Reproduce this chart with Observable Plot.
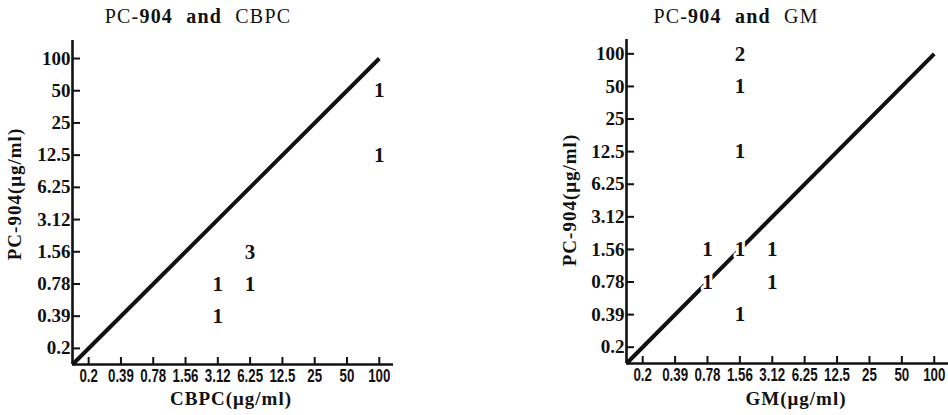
<!DOCTYPE html>
<html>
<head>
<meta charset="utf-8">
<script src="https://cdn.jsdelivr.net/npm/d3@7"></script>
<script src="https://cdn.jsdelivr.net/npm/@observablehq/plot@0.6"></script>
<style>
  html, body { margin: 0; padding: 0; background: #fff; }
  #wrap { position: relative; width: 948px; height: 415px; overflow: hidden; }
  .panel { position: absolute; top: 0; }
  .panel [aria-label="x-axis tick label"] { font-size: 18px; font-weight: bold; font-family: "Liberation Sans", Arimo, "DejaVu Sans", sans-serif; }
  .panel [aria-label="y-axis tick label"] { font-size: 19px; font-weight: bold; font-family: "Liberation Serif", "DejaVu Serif", serif; }
  .lbl { position: absolute; font-family: "Liberation Serif", "DejaVu Serif", serif; font-weight: bold; color: #111; white-space: nowrap; transform: translate(-50%, -50%); }
  .title { font-size: 20px; letter-spacing: 1.2px; word-spacing: 7px; font-weight: normal; }
  .title b { font-weight: bold; }
  .axt { font-size: 19px; letter-spacing: 1px; }
  .rot { transform: translate(-50%, -50%) rotate(-90deg); }
</style>
</head>
<body>
<div id="wrap"></div>
<script>
// Tick labels (equally spaced, two-fold dilution series)
const ticks = ["0.2", "0.39", "0.78", "1.56", "3.12", "6.25", "12.5", "25", "50", "100"];

// Panel 1: PC-904 vs CBPC (x = CBPC MIC, y = PC-904 MIC, n = number of strains)
const cbpcX = ["100", "100", "6.25", "3.12", "6.25", "3.12"];
const cbpcY = ["50", "12.5", "1.56", "0.78", "0.78", "0.39"];
const cbpcN = [1, 1, 3, 1, 1, 1];

// Panel 2: PC-904 vs GM
const gmX = ["1.56", "1.56", "1.56", "0.78", "1.56", "3.12", "0.78", "3.12", "1.56"];
const gmY = ["100", "50", "12.5", "1.56", "1.56", "1.56", "0.78", "0.78", "0.39"];
const gmN = [2, 1, 1, 1, 1, 1, 1, 1, 1];

// Diagonal of equality: from the axis origin to (100, 100)
const diagFrom = -0.5;
const diagTo = "100";

const idx = d3.range(ticks.length);
const pos = v => ticks.indexOf(v);
const serif = '"Liberation Serif", "DejaVu Serif", serif';
const sans = '"Liberation Sans", Arimo, "DejaVu Sans", sans-serif';

function panel({xs, ys, ns, width, marginLeft, marginRight, marginTop, marginBottom, xMax, yMax}) {
  const pts = xs.map((x, i) => ({x: pos(x), y: pos(ys[i]), n: ns[i]}));
  const diag = [{x: diagFrom, y: diagFrom}, {x: pos(diagTo), y: pos(diagTo)}];
  const svg = Plot.plot({
    width, height: 415,
    marginLeft, marginRight, marginTop, marginBottom,
    x: {type: "linear", domain: [-0.5, xMax], label: null},
    y: {type: "linear", domain: [-0.5, yMax], label: null},
    style: {background: "transparent", color: "#111", fontFamily: serif},
    marks: [
      Plot.line(diag, {x: "x", y: "y", stroke: "#111", strokeWidth: 4, strokeLinecap: "butt"}),
      Plot.ruleX([-0.5], {stroke: "#111", strokeWidth: 2.6}),
      Plot.ruleY([-0.5], {stroke: "#111", strokeWidth: 2.6}),
      // inward tick marks
      Plot.axisX(idx, {tickSize: 7, dy: -7, tickFormat: () => "", strokeWidth: 2, stroke: "#111"}),
      Plot.axisY(idx, {tickSize: 8, dx: 8, tickFormat: () => "", strokeWidth: 2, stroke: "#111"}),
      // tick labels
      Plot.axisX(idx, {tickSize: 0, tickPadding: 5, tickFormat: i => ticks[i], fontSize: 18, fontWeight: "bold", fontFamily: sans, fill: "#111"}),
      Plot.axisY(idx, {tickSize: 0, tickPadding: 2, tickFormat: i => ticks[i], fontSize: 19, fontWeight: "bold", fontFamily: serif, fill: "#111"}),
      // counts
      Plot.text(pts, {x: "x", y: "y", text: "n", fontSize: 21, fontWeight: "bold", fontFamily: serif, fill: "#111", stroke: "white", strokeWidth: 6})
    ]
  });
  // the x tick labels in the original are set in a condensed face: squeeze them horizontally
  d3.select(svg).selectAll('[aria-label="x-axis tick label"] text').each(function () {
    const t = this.getAttribute("transform") || "";
    this.setAttribute("transform", t + " scale(0.74,1)");
  });
  return svg;
}

const wrap = document.getElementById("wrap");

const p1 = panel({xs: cbpcX, ys: cbpcY, ns: cbpcN, width: 440, marginLeft: 72, marginRight: 47, marginTop: 40, marginBottom: 51, xMax: 9.44, yMax: 9.56});
p1.classList.add("panel"); p1.style.left = "0px";
wrap.appendChild(p1);

const p2 = panel({xs: gmX, ys: gmY, ns: gmN, width: 468, marginLeft: 146, marginRight: 0, marginTop: 39, marginBottom: 52, xMax: 9.44, yMax: 9.44});
p2.classList.add("panel"); p2.style.left = "480px";
wrap.appendChild(p2);

function label(text, x, y, cls, html) {
  const d = document.createElement("div");
  d.className = "lbl " + cls;
  if (html) d.innerHTML = text; else d.textContent = text;
  d.style.left = x + "px";
  d.style.top = y + "px";
  wrap.appendChild(d);
}
label("PC-<b>904</b> <b>and</b> CBPC", 198, 16, "title", true);
label("PC-<b>904</b> <b>and</b> GM", 736, 16, "title", true);
label("CBPC(μg/ml)", 231, 399, "axt");
label("GM(μg/ml)", 796, 399, "axt");
label("PC-904(μg/ml)", 15, 194, "axt rot");
label("PC-904(μg/ml)", 570, 200, "axt rot");
</script>
</body>
</html>
